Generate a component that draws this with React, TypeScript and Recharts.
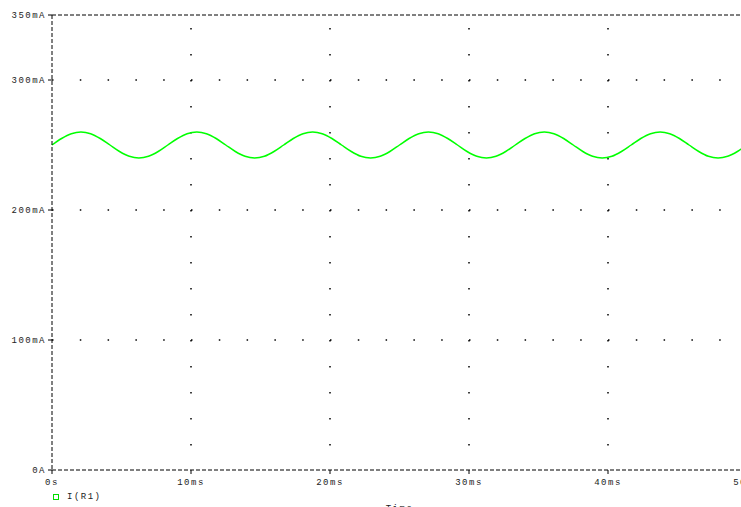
import { LineChart, Line, XAxis, YAxis, CartesianGrid, ReferenceLine } from 'recharts';

// sample times (ms), ~12 per cycle
const timeMs = [
    0, 0.69, 1.39, 2.08, 2.78, 3.47, 4.17, 4.86, 5.56, 6.25, 6.94, 7.64,
    8.33, 9.03, 9.72, 10.42, 11.11, 11.81, 12.5, 13.19, 13.89, 14.58, 15.28, 15.97,
    16.67, 17.36, 18.06, 18.75, 19.44, 20.14, 20.83, 21.53, 22.22, 22.92, 23.61, 24.31,
    25.0, 25.69, 26.39, 27.08, 27.78, 28.47, 29.17, 29.86, 30.56, 31.25, 31.94, 32.64,
    33.33, 34.03, 34.72, 35.42, 36.11, 36.81, 37.5, 38.19, 38.89, 39.58, 40.28, 40.97,
    41.67, 42.36, 43.06, 43.75, 44.44, 45.14, 45.83, 46.53, 47.22, 47.92, 48.61, 49.31,
    50.0,
];

// I(R1) in mA
const currentMa = [
    250, 255, 258.7, 260, 258.7, 255, 250, 245, 241.3, 240, 241.3, 245,
    250, 255, 258.7, 260, 258.7, 255, 250, 245, 241.3, 240, 241.3, 245,
    250, 255, 258.7, 260, 258.7, 255, 250, 245, 241.3, 240, 241.3, 245,
    250, 255, 258.7, 260, 258.7, 255, 250, 245, 241.3, 240, 241.3, 245,
    250, 255, 258.7, 260, 258.7, 255, 250, 245, 241.3, 240, 241.3, 245,
    250, 255, 258.7, 260, 258.7, 255, 250, 245, 241.3, 240, 241.3, 245,
    250,
];

const xTicks = [0, 10, 20, 30, 40, 50];
const yTicks = [0, 100, 200, 300, 350];
const xGrid = [10, 20, 30, 40];
const yGrid = [100, 200, 300];

const data = timeMs.map((t, i) => ({ t, i: currentMa[i] }));

const FONT = '"Liberation Mono", "DejaVu Sans Mono", monospace';
const tickStyle = { fontSize: 9, fontFamily: FONT, fill: '#222', letterSpacing: 1.5 };
const dashed = { stroke: '#000', strokeDasharray: '4 2' };

const fmtX = (v: number) => (v === 0 ? '0s' : `${v}ms`);
const fmtY = (v: number) => (v === 0 ? '0A' : `${v}mA`);

export default function App() {
    return (
        <div style={{ position: 'fixed', left: 0, top: 0, width: 741, height: 507, overflow: 'hidden', background: '#fff' }}>
            <LineChart width={760} height={507} data={data} margin={{ top: 15, right: 13, left: 0, bottom: 0 }}>
                <CartesianGrid
                    horizontal={true}
                    vertical={false}
                    horizontalValues={yGrid}
                    stroke="#000"
                    strokeWidth={1.5}
                    strokeDasharray="1.5 26.3"
                />
                <CartesianGrid
                    horizontal={false}
                    vertical={true}
                    verticalValues={xGrid}
                    stroke="#000"
                    strokeWidth={1.5}
                    strokeDasharray="0 13 1.5 11.5"
                />
                <XAxis
                    dataKey="t"
                    type="number"
                    domain={[0, 50]}
                    ticks={xTicks}
                    tickFormatter={fmtX}
                    tick={tickStyle}
                    tickSize={4}
                    tickMargin={5}
                    height={37}
                    axisLine={dashed}
                    tickLine={{ stroke: '#000' }}
                    interval={0}
                    label={{ value: 'Time', position: 'bottom', offset: -2, style: { ...tickStyle } }}
                />
                <YAxis
                    type="number"
                    domain={[0, 350]}
                    ticks={yTicks}
                    tickFormatter={fmtY}
                    tick={tickStyle}
                    tickSize={4}
                    tickMargin={2}
                    width={52}
                    axisLine={dashed}
                    tickLine={{ stroke: '#000' }}
                    interval={0}
                />
                <ReferenceLine y={350} stroke="#000" strokeDasharray="4 2" />
                <Line
                    type="monotone"
                    dataKey="i"
                    stroke="#00ff00"
                    strokeWidth={1.5}
                    dot={false}
                    isAnimationActive={false}
                />
            </LineChart>
            <div style={{ position: 'absolute', left: 53, top: 493, display: 'flex', alignItems: 'center', fontFamily: FONT, fontSize: 9, letterSpacing: 1.5, color: '#222' }}>
                <span style={{ width: 4, height: 4, border: '1px solid #00dd00', display: 'inline-block' }} />
                <span style={{ marginLeft: 8, lineHeight: '8px' }}>I(R1)</span>
            </div>
        </div>
    );
}
